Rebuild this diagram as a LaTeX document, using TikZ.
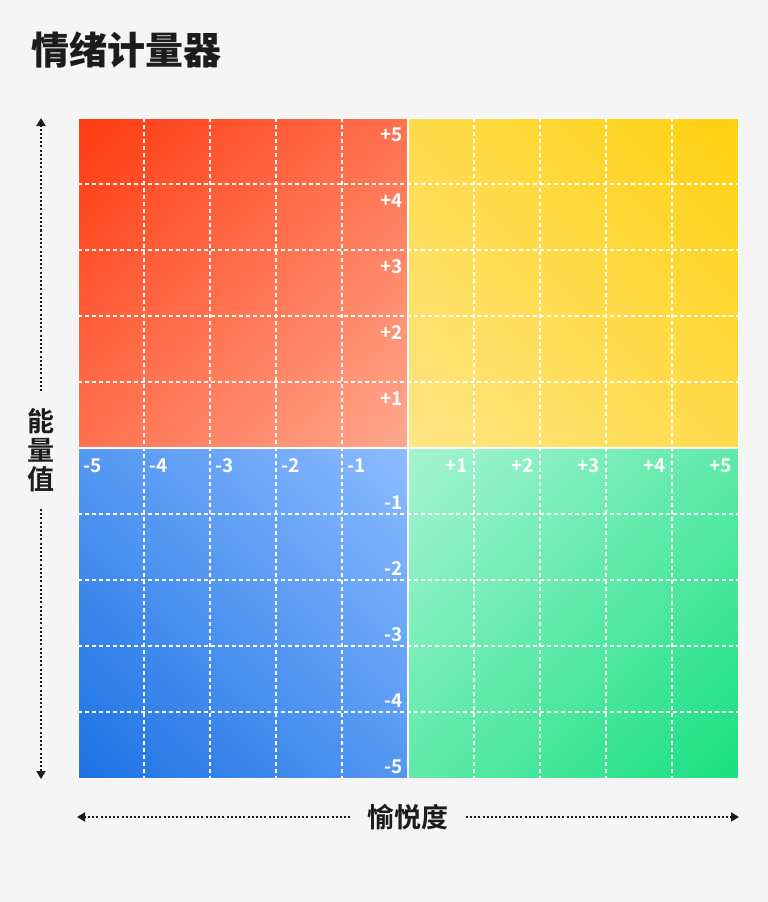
\documentclass[tikz,border=0pt]{standalone}
\usepackage{fontspec}
\setmainfont{Noto Sans CJK SC}[BoldFont=* Bold]
\newfontfamily\heavyfont{Noto Sans CJK SC}[UprightFont=* Black]
\usetikzlibrary{arrows.meta}
\definecolor{bgpaper}{HTML}{F5F5F5}
\definecolor{redhot}{HTML}{FF3A10}
\definecolor{redsoft}{HTML}{FFA88E}
\definecolor{yelhot}{HTML}{FFD10F}
\definecolor{yelsoft}{HTML}{FFE585}
\definecolor{bluehot}{HTML}{1C72E4}
\definecolor{bluesoft}{HTML}{8CBCFF}
\definecolor{grnhot}{HTML}{18E080}
\definecolor{grnsoft}{HTML}{A6F4D2}
\definecolor{inkdark}{HTML}{1C1C1C}
% corner-to-corner gradients (soft end first)
\pgfdeclareverticalshading{qred}{100bp}{color(0bp)=(redsoft); color(14.64bp)=(redsoft); color(85.36bp)=(redhot); color(100bp)=(redhot)}
\pgfdeclareverticalshading{qyellow}{100bp}{color(0bp)=(yelsoft); color(14.64bp)=(yelsoft); color(85.36bp)=(yelhot); color(100bp)=(yelhot)}
\pgfdeclareverticalshading{qblue}{100bp}{color(0bp)=(bluehot); color(14.64bp)=(bluehot); color(85.36bp)=(bluesoft); color(100bp)=(bluesoft)}
\pgfdeclareverticalshading{qgreen}{100bp}{color(0bp)=(grnhot); color(14.64bp)=(grnhot); color(85.36bp)=(grnsoft); color(100bp)=(grnsoft)}
\tikzset{
  titletext/.style={font=\heavyfont\fontsize{38}{40}\selectfont,text=inkdark,inner sep=0pt},
  axistext/.style={font=\bfseries\fontsize{27}{29}\selectfont,text=inkdark,inner sep=17pt},
  numtext/.style={font=\bfseries\fontsize{19}{20}\selectfont,text=white,inner sep=0pt},
  gridline/.style={white,line width=1.6pt,dash pattern=on 4pt off 3pt},
  divline/.style={white,line width=2.5pt},
  axisline/.style={inkdark,line width=1.8pt,dash pattern=on 2pt off 2.2pt,-{Triangle[width=9pt,length=8pt]}}
}
\begin{document}
\begin{tikzpicture}[x=1pt,y=-1pt]
  \fill[bgpaper] (0,0) rectangle (768,902);
  \useasboundingbox (0,0) rectangle (768,902);
  \node[titletext,anchor=west] (title) at (31,50) {情绪计量器};
  % four quadrants
  \shade[shading=qred,shading angle=45] (78,118) rectangle (408,448);
  \shade[shading=qyellow,shading angle=-45] (408,118) rectangle (738,448);
  \shade[shading=qblue,shading angle=-45] (78,448) rectangle (408,778);
  \shade[shading=qgreen,shading angle=45] (408,448) rectangle (738,778);
  % grid
  \foreach \k in {1,2,3,4,6,7,8,9} {
    \draw[gridline] ({78+66*\k},118) -- ({78+66*\k},778);
    \draw[gridline] (78,{118+66*\k}) -- (738,{118+66*\k});
  }
  \draw[divline] (408,118) -- (408,778);
  \draw[divline] (78,448) -- (738,448);
  \draw[white,line width=1pt] (78,118) rectangle (738,778);
  % scale labels
  \foreach \v in {1,...,5} {
    \node[numtext,anchor=base east] (up\v) at (403,{118+66*(5-\v)+23}) {+\v};
    \node[numtext,anchor=base west] (left\v) at ({78+66*(5-\v)+5},472) {-\v};
    \node[numtext,anchor=base east] (down\v) at (403,{448+66*\v-5}) {-\v};
    \node[numtext,anchor=base east] (right\v) at ({408+66*\v-6},472) {+\v};
  }
  % axes
  \node[axistext,align=center] (energy) at (41,450) {能\\量\\值};
  \coordinate (etop) at (41,118);
  \coordinate (ebot) at (41,779);
  \draw[axisline] (energy) -- (etop);
  \draw[axisline] (energy) -- (ebot);
  \node[axistext] (joy) at (408,817) {愉悦度};
  \coordinate (jleft) at (77,817);
  \coordinate (jright) at (739,817);
  \draw[axisline] (joy) -- (jleft);
  \draw[axisline] (joy) -- (jright);
\end{tikzpicture}
\end{document}
